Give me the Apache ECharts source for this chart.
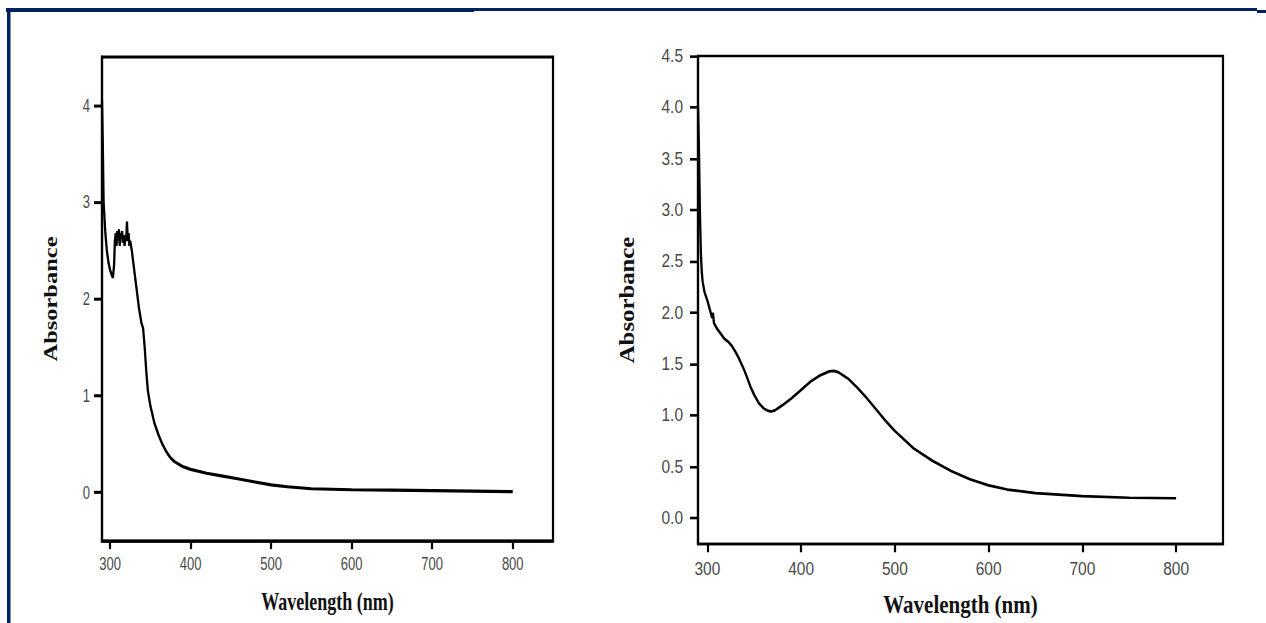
<!DOCTYPE html>
<html>
<head>
<meta charset="utf-8">
<script src="https://cdn.jsdelivr.net/npm/echarts@6/dist/echarts.min.js"></script>
<style>
html,body{margin:0;padding:0;background:#fff;overflow:hidden;width:1266px;height:623px;}
#left{position:absolute;left:0;top:0;width:590px;transform-origin:0 0;}
#right{position:absolute;left:590px;top:0;width:676px;transform-origin:0 0;}
</style>
</head>
<body>
<div id="left"></div>
<div id="right"></div>
<script>
// ---- data ----
const leftWavelength = [290,291,292,294,296,298,300,302,303.5,305,306,307,308,309,310,311,312,313,314,315,316,317,318,319,320,321,322,323,324,325,327,330,333,336,339,341,343,345,347,350,355,360,365,370,375,380,390,400,420,440,460,480,500,520,550,600,650,700,750,800];
const leftAbsorbance = [4.05,3.6,3.0,2.7,2.5,2.38,2.3,2.25,2.22,2.35,2.6,2.68,2.55,2.7,2.6,2.72,2.55,2.68,2.62,2.7,2.58,2.66,2.55,2.65,2.6,2.8,2.6,2.68,2.55,2.6,2.5,2.3,2.1,1.9,1.75,1.7,1.5,1.25,1.05,0.9,0.72,0.6,0.5,0.42,0.36,0.32,0.27,0.24,0.2,0.17,0.14,0.11,0.08,0.06,0.04,0.03,0.025,0.02,0.015,0.01];
const rightWavelength = [290,291,292,293,294,295,297,300,303,305,306,307,310,314,318,322,326,330,334,338,342,346,350,355,360,365,368,372,380,390,400,410,420,430,435,440,450,460,470,480,490,500,520,540,560,580,600,620,650,700,750,800];
const rightAbsorbance = [4.02,3.6,3.0,2.6,2.4,2.3,2.2,2.12,2.02,1.95,2.0,1.9,1.85,1.8,1.75,1.72,1.68,1.62,1.55,1.47,1.38,1.28,1.2,1.12,1.07,1.045,1.04,1.05,1.1,1.17,1.25,1.33,1.39,1.43,1.435,1.42,1.36,1.27,1.17,1.06,0.95,0.85,0.68,0.56,0.46,0.38,0.32,0.28,0.245,0.215,0.2,0.195];
const xTickValues = [300,400,500,600,700,800];
const leftYTickValues = [0,1,2,3,4];
const rightYTickValues = [0,0.5,1.0,1.5,2.0,2.5,3.0,3.5,4.0,4.5];
const xAxisName = 'Wavelength (nm)';
const yAxisName = 'Absorbance';

// ---- layout ----
const H = 623;
const sL = 1.36, sR = 1.18;
const navy = '#00205f';

function makeChart(id, s, cfg) {
  const el = document.getElementById(id);
  el.style.height = (H / s) + 'px';
  el.style.transform = 'scaleY(' + s + ')';
  const chart = echarts.init(el, null, {renderer: 'svg'});
  const pairs = cfg.x.map((v, i) => [v, cfg.y[i]]);
  chart.setOption({
    animation: false,
    backgroundColor: '#fff',
    grid: {left: cfg.gl, width: cfg.gw, top: cfg.gt / s, height: (cfg.gb - cfg.gt) / s,
           show: true, borderColor: '#000', borderWidth: 2.2, backgroundColor: 'transparent'},
    xAxis: {
      type: 'value', min: 290, max: 850,
      name: xAxisName, nameLocation: 'middle', nameGap: cfg.xNameGap,
      nameTextStyle: {fontFamily: 'Liberation Serif', fontWeight: 'bold', fontSize: cfg.titleSize, color: '#111'},
      axisLine: {show: true, onZero: false, lineStyle: {color: '#000', width: 2.2}},
      axisTick: {show: true, inside: false, customValues: xTickValues, length: cfg.xTickLen, lineStyle: {color: '#000', width: 2.2}},
      axisLabel: {customValues: xTickValues, color: '#4a4a4a', fontFamily: 'Liberation Sans', fontSize: cfg.tickSize, margin: cfg.xLabelMargin},
      splitLine: {show: false}
    },
    yAxis: {
      type: 'value', min: cfg.ymin, max: 4.5,
      name: yAxisName, nameLocation: 'middle', nameGap: cfg.yNameGap, nameRotate: 90,
      nameTextStyle: {fontFamily: 'Liberation Serif', fontWeight: 'bold', fontSize: cfg.titleSize, color: '#111'},
      axisLine: {show: true, onZero: false, lineStyle: {color: '#000', width: 2.2}},
      axisTick: {show: true, inside: false, customValues: cfg.yTicks, length: 8, lineStyle: {color: '#000', width: 2.2}},
      axisLabel: {customValues: cfg.yTicks, color: '#4a4a4a', fontFamily: 'Liberation Sans', fontSize: cfg.tickSize, margin: cfg.yLabelMargin,
                  formatter: cfg.yFmt},
      splitLine: {show: false}
    },
    series: [{
      type: 'line', data: pairs, showSymbol: false, symbol: 'none',
      lineStyle: {color: '#000', width: 2.3}, itemStyle: {color: '#000'}
    }],
    graphic: cfg.frame.map(r => ({
      type: 'rect', silent: true,
      shape: {x: r[0], y: r[1] / s, width: r[2], height: r[3] / s},
      style: {fill: navy}
    }))
  });
  return chart;
}

makeChart('left', sL, {
  x: leftWavelength, y: leftAbsorbance,
  gl: 102, gw: 451, gt: 57, gb: 541,
  ymin: -0.5, yTicks: leftYTickValues, yFmt: v => String(v),
  tickSize: 13, titleSize: 18,
  xNameGap: 36, yNameGap: 42, xLabelMargin: 10, yLabelMargin: 12, xTickLen: 6,
  frame: [[6, 8, 468, 4], [474, 8, 116, 3], [7, 8, 3.5, 615]]
});

makeChart('right', sR, {
  x: rightWavelength, y: rightAbsorbance,
  gl: 108, gw: 525, gt: 56, gb: 545,
  ymin: -0.25, yTicks: rightYTickValues, yFmt: v => v.toFixed(1),
  tickSize: 15.5, titleSize: 21,
  xNameGap: 41, yNameGap: 60, xLabelMargin: 13, yLabelMargin: 15, xTickLen: 7,
  frame: [[0, 8, 667, 3], [667, 10, 9, 3]]
});
</script>
</body>
</html>
